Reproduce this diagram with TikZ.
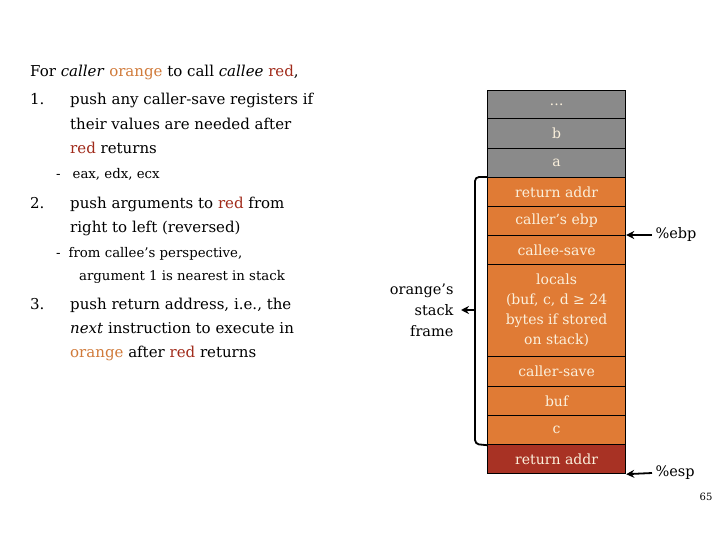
\documentclass[tikz,border=0pt]{standalone}
\usepackage{fontspec}
\setmainfont{DejaVu Serif}
\usetikzlibrary{arrows.meta}
\definecolor{gr}{HTML}{8A8A8A}
\definecolor{orn}{HTML}{E07B35}
\definecolor{dred}{HTML}{A83224}
\definecolor{txto}{HTML}{D07A3A}
\definecolor{txtr}{HTML}{A02A1A}
\definecolor{cream}{HTML}{FBF0DC}
\begin{document}
\begin{tikzpicture}[x=1pt,y=-1pt,
  cell/.style={draw=black,line width=1.2pt,minimum width=138pt,inner sep=0pt,text=cream,font=\fontsize{14}{20}\selectfont,align=center},
  lt/.style={anchor=base west,font=\fontsize{15}{20}\selectfont,inner sep=0pt},
  st/.style={anchor=base west,font=\fontsize{13.3}{20}\selectfont,inner sep=0pt},
  arr/.style={-{Stealth[length=8pt,width=8pt]},line width=1.8pt}]
\useasboundingbox (0,0) rectangle (720,540);
\foreach \n/\a/\b/\c/\t in {r0/90/118/gr/{\dots}, r1/118/148/gr/b, r2/148/177/gr/a, r3/177/206/orn/return addr, r4/206/235/orn/caller’s ebp, r5/235/264/orn/callee-save, r6/264/356/orn/{locals\\(buf, c, d ≥ 24\\bytes if stored\\on stack)}, r7/356/386/orn/caller-save, r8/386/415/orn/buf, r9/415/444/orn/c, r10/444/473/dred/return addr}
  \node[cell,fill=\c,minimum height={\b-\a},anchor=north west] (\n) at (487,\a) {\t};
\coordinate (bt) at (475,177);
\coordinate (bb) at (475,444);
\coordinate (bm) at (475,310);
\coordinate (btip) at (461,310);
\draw[line width=1.8pt,rounded corners=4pt] (r3.north west) -- (bt) -- (bb) -- (r9.south west);
\draw[arr] (bm) -- (btip);
\node[align=right,anchor=east,font=\fontsize{14.5}{21}\selectfont] (fr) at (457,310) {orange’s\\stack\\frame};
\coordinate (ebpa) at (652,235);
\coordinate (espa) at (652,473);
\draw[arr] (ebpa) -- (r5.north east);
\draw[arr] (espa) -- (r10.south east);
\node[anchor=west,font=\fontsize{14.5}{20}\selectfont] (ebp) at (ebpa) {\%ebp};
\node[anchor=west,font=\fontsize{14.5}{20}\selectfont] (esp) at (espa) {\%esp};
\node[lt] (l0) at (30,77) {For \textit{caller} \textcolor{txto}{orange} to call \textit{callee} \textcolor{txtr}{red},};
\node[lt] (l1) at (30,105) {1.};
\node[lt] (l1a) at (70,105) {push any caller-save registers if};
\node[lt] (l1b) at (70,130) {their values are needed after};
\node[lt] (l1c) at (70,154) {\textcolor{txtr}{red} returns};
\node[st] (l1d) at (56,179) {-\hspace{12pt}eax, edx, ecx};
\node[lt] (l2) at (30,209) {2.};
\node[lt] (l2a) at (70,209) {push arguments to \textcolor{txtr}{red} from};
\node[lt] (l2b) at (70,233) {right to left (reversed)};
\node[st] (l2c) at (56,258) {-\hspace{8pt}from callee’s perspective,};
\node[st] (l2c2) at (79,280) {argument 1 is nearest in stack};
\node[lt] (l3) at (30,309) {3.};
\node[lt] (l3a) at (70,309) {push return address, i.e., the};
\node[lt] (l3b) at (70,333) {\textit{next} instruction to execute in};
\node[lt] (l3c) at (70,357) {\textcolor{txto}{orange} after \textcolor{txtr}{red} returns};
\node[font=\fontsize{10}{12}\selectfont] (pg) at (706,497) {65};
\end{tikzpicture}
\end{document}
